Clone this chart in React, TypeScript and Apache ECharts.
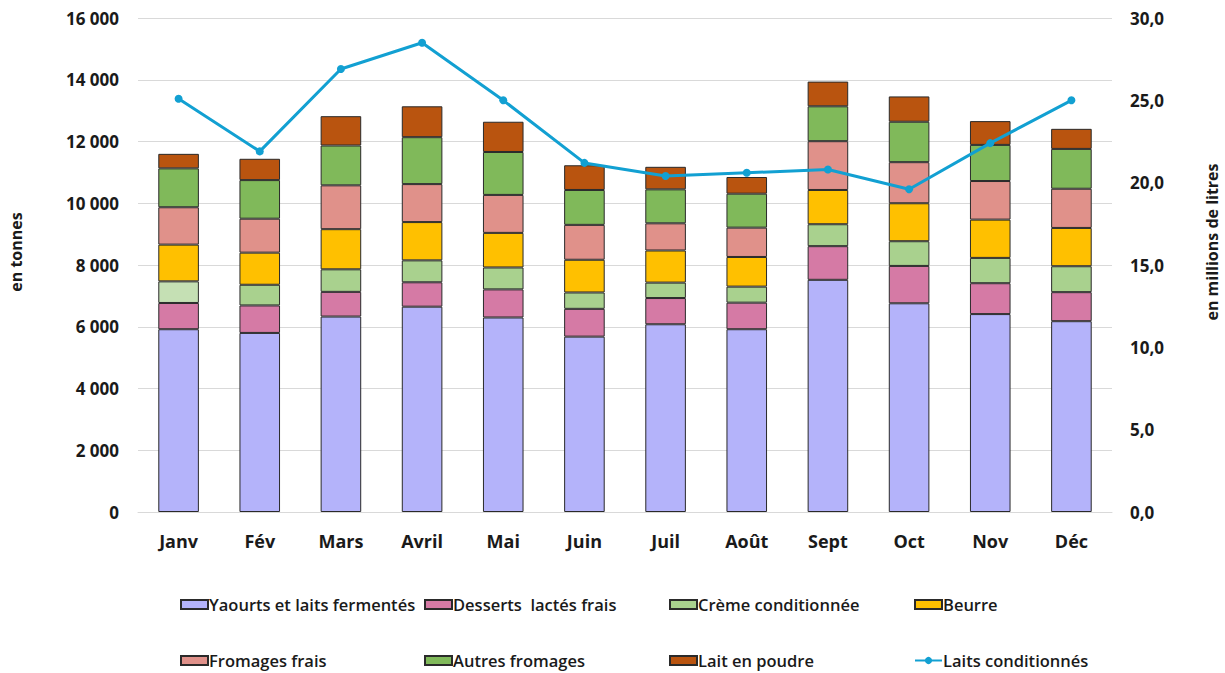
import React, { useEffect, useRef } from "react";
import * as echarts from "echarts";

const months = ["Janv", "Fév", "Mars", "Avril", "Mai", "Juin", "Juil", "Août", "Sept", "Oct", "Nov", "Déc"];
const yaourts = [5920, 5800, 6330, 6650, 6300, 5680, 6080, 5920, 7520, 6760, 6410, 6180];
const desserts = [850, 890, 800, 790, 910, 900, 850, 860, 1090, 1210, 1000, 940];
const creme = [700, 670, 730, 710, 710, 530, 500, 520, 710, 800, 820, 840];
const beurre = [1190, 1040, 1300, 1240, 1120, 1060, 1040, 960, 1110, 1230, 1240, 1240];
const fromagesFrais = [1210, 1100, 1420, 1230, 1230, 1130, 880, 950, 1580, 1330, 1250, 1270];
const autresFromages = [1260, 1250, 1290, 1520, 1390, 1130, 1100, 1100, 1130, 1310, 1170, 1290];
const laitPoudre = [470, 690, 950, 1000, 980, 800, 730, 540, 800, 820, 770, 650];
const laitsConditionnes = [25.1, 21.9, 26.9, 28.5, 25.0, 21.2, 20.4, 20.6, 20.8, 19.6, 22.4, 25.0];

const leftTicks = [0, 2000, 4000, 6000, 8000, 10000, 12000, 14000, 16000];
const rightTicks = [0, 5, 10, 15, 20, 25, 30];
const leftTitle = "en tonnes";
const rightTitle = "en millions de litres";

const FONT = "'Open Sans', 'Noto Sans', sans-serif";
const TXT = "#1a1a1a";

export default function App() {
  const ref = useRef<HTMLDivElement>(null);
  useEffect(() => {
    if (!ref.current) return;
    const chart = echarts.init(ref.current, null, { renderer: "svg" });
    const barSeries = [
      { name: "Yaourts et laits fermentés", data: yaourts, color: "#b4b3fa" },
      { name: "Desserts  lactés frais", data: desserts, color: "#d57aa5" },
      {
        name: "Crème conditionnée",
        data: creme.map((v, i) => (i === 0 ? { value: v, itemStyle: { color: "#c5e0b4" } } : v)),
        color: "#a9d18e",
      },
      { name: "Beurre", data: beurre, color: "#ffc000" },
      { name: "Fromages frais", data: fromagesFrais, color: "#e0918a" },
      { name: "Autres fromages", data: autresFromages, color: "#80b95a" },
      { name: "Lait en poudre", data: laitPoudre, color: "#b9540f" },
    ].map((s) => ({
      name: s.name,
      type: "bar",
      stack: "total",
      barWidth: "50%",
      data: s.data,
      itemStyle: { color: s.color, borderColor: "#2a2a2a", borderWidth: 1 },
      emphasis: { disabled: true },
    }));

    const cols = [180, 424, 669, 914];
    const legendNames = [
      "Yaourts et laits fermentés",
      "Desserts  lactés frais",
      "Crème conditionnée",
      "Beurre",
      "Fromages frais",
      "Autres fromages",
      "Lait en poudre",
      "Laits conditionnés",
    ];
    const legends = legendNames.map((n, i) => ({
      data: [n],
      left: cols[i % 4],
      top: i < 4 ? 596 : 652,
      padding: 0,
      icon: i === 7 ? undefined : "rect",
      itemWidth: 27,
      itemHeight: 9,
      itemGap: 0,
      selectedMode: false,
      textStyle: { fontFamily: FONT, fontSize: 16.5, fontWeight: 600, color: TXT, padding: [0, 0, 0, -4] },
    }));

    chart.setOption({
      animation: false,
      backgroundColor: "#ffffff",
      textStyle: { fontFamily: FONT },
      grid: { left: 138, right: 113, top: 18, bottom: 161 },
      legend: legends,
      graphic: [
        {
          type: "text",
          x: 16,
          y: 252,
          rotation: Math.PI / 2,
          style: {
            text: leftTitle,
            fontFamily: FONT,
            fontSize: 16,
            fontWeight: "bold",
            fill: TXT,
            align: "center",
            verticalAlign: "middle",
          },
        },
        {
          type: "text",
          x: 1212,
          y: 242,
          rotation: Math.PI / 2,
          style: {
            text: rightTitle,
            fontFamily: FONT,
            fontSize: 16,
            fontWeight: "bold",
            fill: TXT,
            align: "center",
            verticalAlign: "middle",
          },
        },
      ],
      xAxis: {
        type: "category",
        data: months,
        axisLine: { show: true, lineStyle: { color: "#d9d9d9" } },
        axisTick: { show: false },
        axisLabel: { fontFamily: FONT, fontSize: 18, fontWeight: "bold", color: TXT, margin: 20 },
      },
      yAxis: [
        {
          type: "value",
          min: leftTicks[0],
          max: leftTicks[leftTicks.length - 1],
          interval: 2000,
          axisLine: { show: false },
          axisTick: { show: false },
          splitLine: { lineStyle: { color: "#d9d9d9", width: 1 } },
          axisLabel: {
            fontFamily: FONT,
            fontSize: 17,
            fontWeight: "bold",
            color: TXT,
            margin: 19,
            formatter: (v: number) => String(v).replace(/\B(?=(\d{3})+(?!\d))/g, " "),
          },
        },
        {
          type: "value",
          min: rightTicks[0],
          max: rightTicks[rightTicks.length - 1],
          interval: 5,
          axisLine: { show: false },
          axisTick: { show: false },
          splitLine: { show: false },
          axisLabel: {
            fontFamily: FONT,
            fontSize: 17,
            fontWeight: "bold",
            color: TXT,
            margin: 18,
            formatter: (v: number) => v.toFixed(1).replace(".", ","),
          },
        },
      ],
      series: [
        ...barSeries,
        {
          name: "Laits conditionnés",
          type: "line",
          yAxisIndex: 1,
          data: laitsConditionnes,
          symbol: "circle",
          symbolSize: 8,
          lineStyle: { color: "#12a0d2", width: 3 },
          itemStyle: { color: "#12a0d2" },
          emphasis: { disabled: true },
          z: 10,
        },
      ],
    });
    return () => chart.dispose();
  }, []);
  return (
    <div
      ref={ref}
      style={{ position: "fixed", left: 0, top: 0, width: 1225, height: 673, background: "#fff" }}
    />
  );
}
